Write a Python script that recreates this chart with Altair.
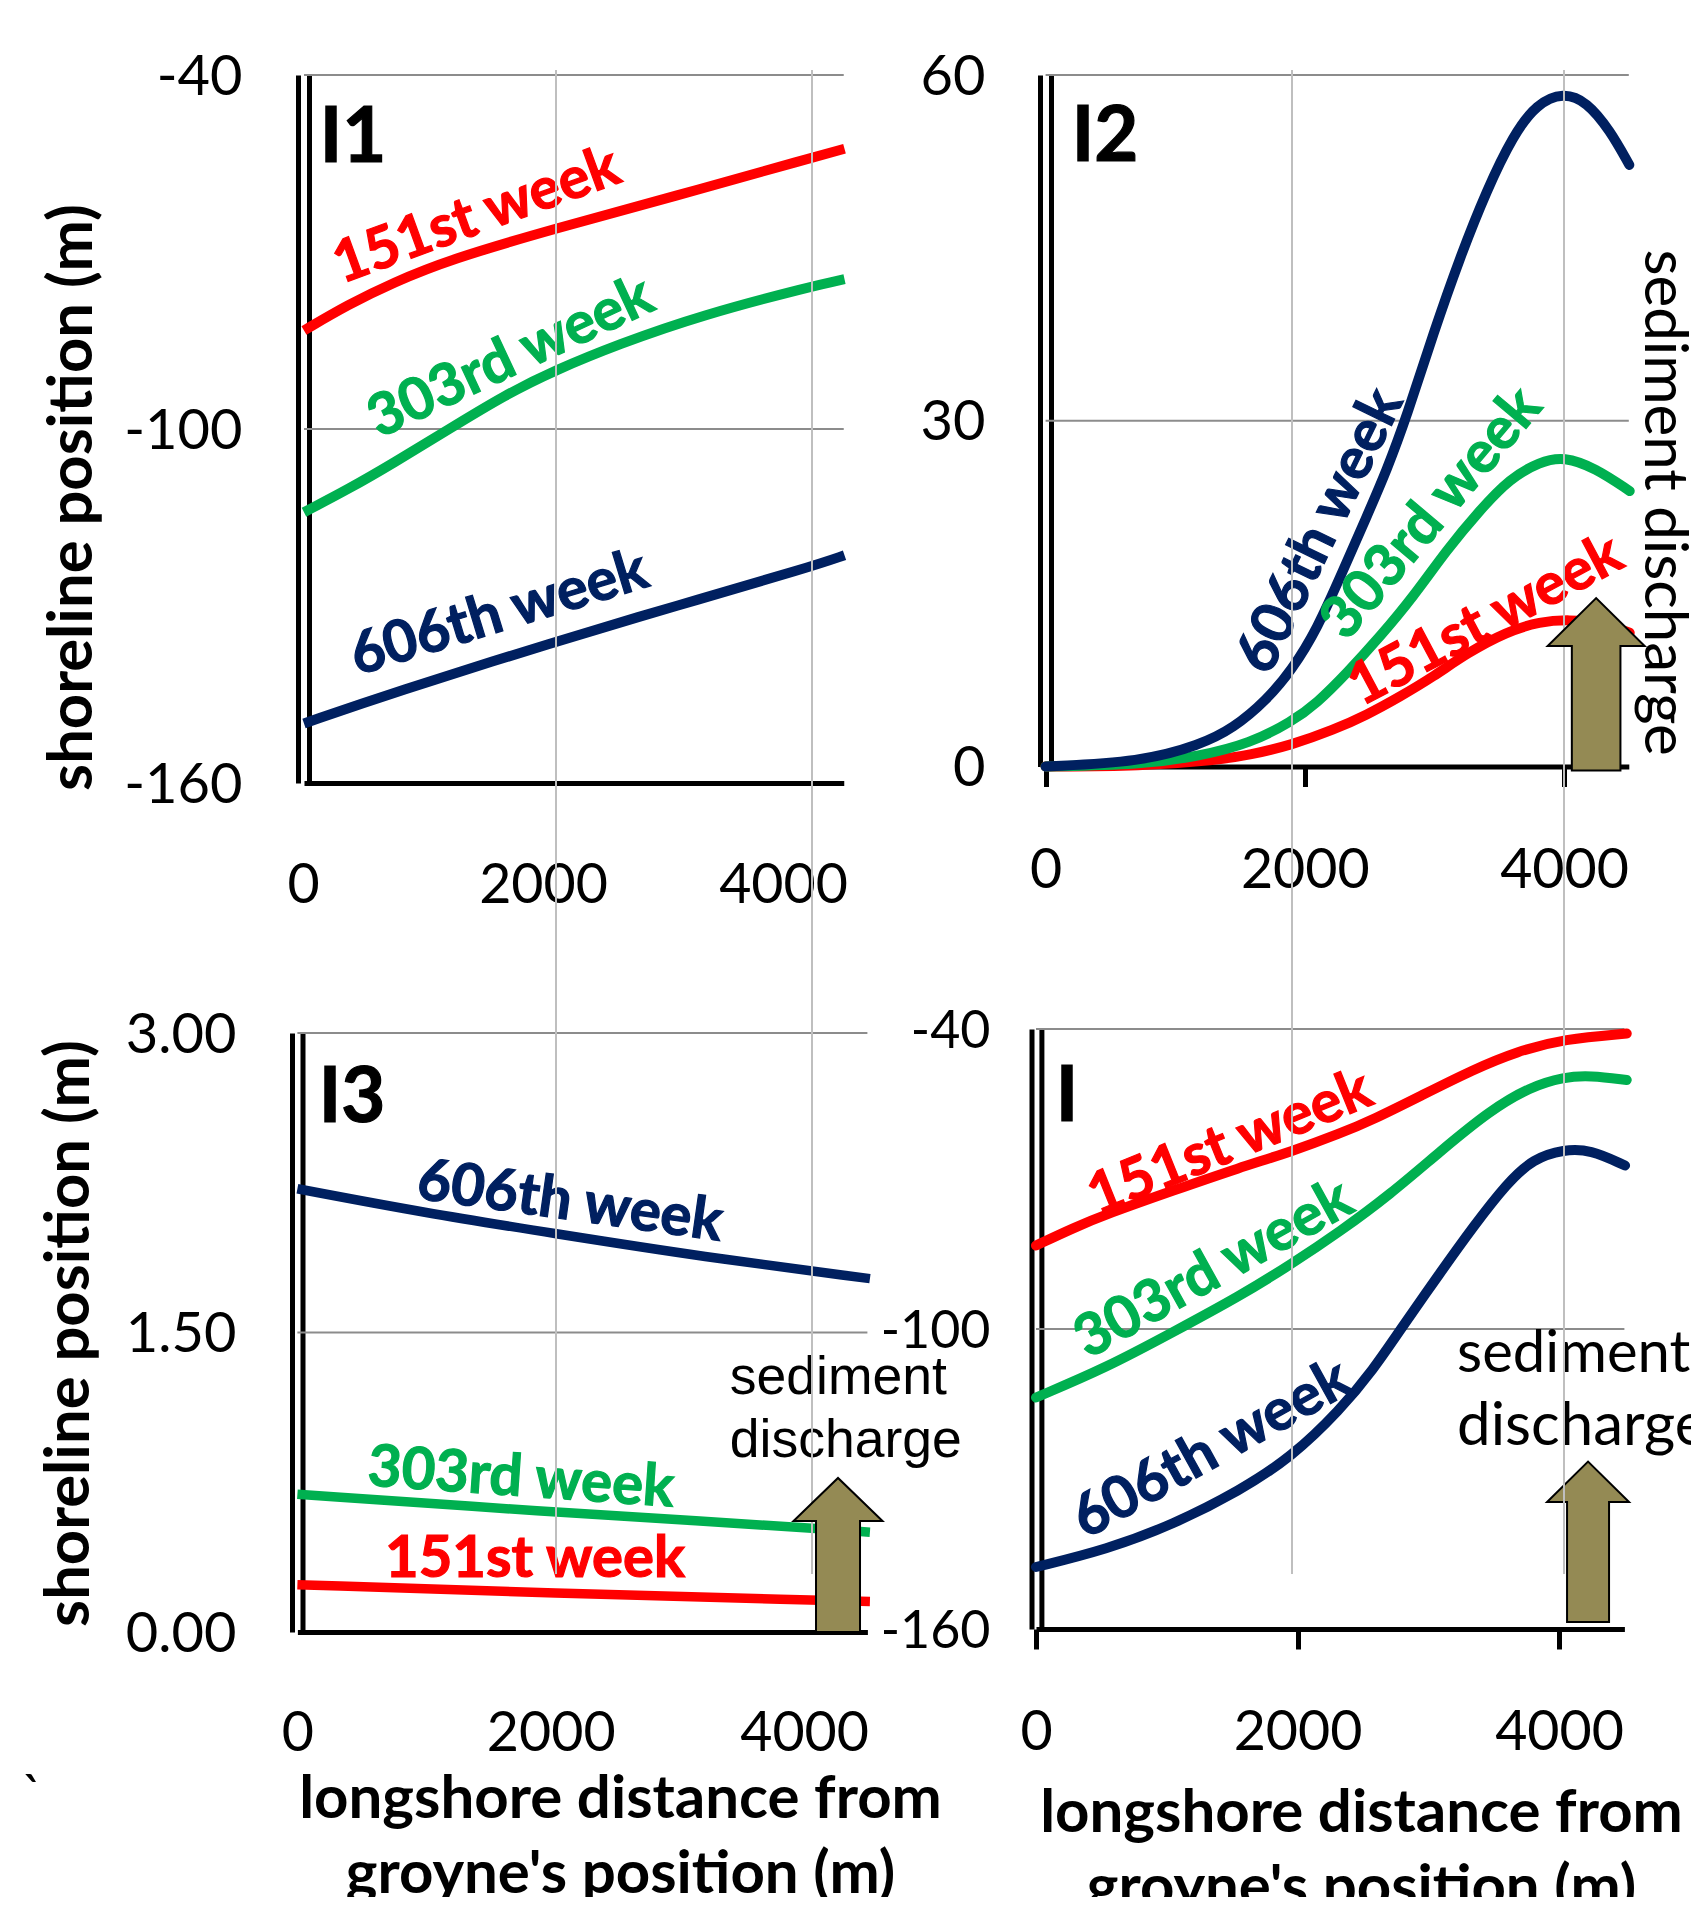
import altair as alt
import pandas as pd

W, H, M = 1683, 1889, 8
FONT = "Lato"
RED, GREEN, NAVY = "#FF0000", "#00B050", "#002060"
WEEKS = ["151st week", "303rd week", "606th week"]
COLORS = [RED, GREEN, NAVY]
ARROW_FILL = "#948A54"

# ---- series values (distance m, shoreline/discharge value)
i1_x_151 = [0, 349, 702, 1143, 1982, 2910, 4000, 4256]
i1_y_151 = [-83.3, -78.9, -75.2, -71.3, -66, -60.6, -54, -52.5]
i1_x_303 = [0, 349, 702, 1143, 1585, 1982, 2468, 3130, 4000, 4256]
i1_y_303 = [-114.1, -110.2, -105.8, -100, -94.2, -90, -85.7, -80.7, -75.8, -74.6]
i1_x_606 = [0, 702, 1982, 2910, 4000, 4256]
i1_y_606 = [-149.9, -144.7, -136, -130.1, -123.3, -121.4]

i2_x_151 = [0, 737, 1320, 1577, 1899, 2220, 2478, 2735, 2992, 3249, 3558, 3815, 4040, 4282, 4507]
i2_y_151 = [0, 0.03, 0.56, 1, 1.87, 3.17, 4.47, 6.06, 7.79, 9.82, 11.7, 12.57, 12.75, 12.5, 11.6]
i2_x_303 = [0, 737, 1191, 1577, 1899, 2092, 2323, 2580, 2837, 3095, 3352, 3583, 3815, 4000, 4241, 4507]
i2_y_303 = [0, 0.15, 0.91, 2.01, 3.89, 5.48, 8.09, 11.26, 14.73, 18.8, 22.26, 25, 26.45, 26.9, 25.9, 23.9]
i2_x_606 = [0, 737, 1191, 1448, 1706, 1899, 2092, 2297, 2478, 2632, 2786, 2992, 3198, 3403, 3609, 3789, 3995, 4175, 4355, 4504]
i2_y_606 = [0, 0.4, 1.87, 3.31, 5.77, 8.37, 11.84, 17.05, 21.7, 25.7, 30.35, 37.6, 44.2, 50, 54.8, 57.5, 58.5, 57.7, 55.2, 52.2]

i3_x_151 = [0, 2038, 4076, 4520]
i3_y_151 = [0.237, 0.194, 0.16, 0.153]
i3_x_303 = [0, 2038, 3190, 4076, 4520]
i3_y_303 = [0.69, 0.60, 0.555, 0.52, 0.50]
i3_x_606 = [0, 1000, 2038, 3190, 4520]
i3_y_606 = [2.22, 2.10, 1.995, 1.88, 1.77]

i_x_151 = [0, 285, 541, 1050, 1560, 1955, 2325, 2580, 2962, 3345, 3676, 4038, 4518]
i_y_151 = [-83.3, -79.8, -77, -72.3, -67.7, -64.5, -60.9, -58.1, -53.1, -48.1, -44.5, -42, -40.9]
i_x_303 = [0, 541, 1050, 1560, 1955, 2325, 2708, 3090, 3472, 3778, 4038, 4237, 4518]
i_y_303 = [-113.7, -107.7, -100.6, -93.4, -87, -80.5, -73.1, -64.5, -56.3, -51.6, -49.6, -49.3, -50.2]
i_x_606 = [0, 541, 1050, 1560, 1955, 2325, 2580, 2784, 3090, 3345, 3600, 3804, 4038, 4237, 4505]
i_y_606 = [-147.6, -144.1, -139.1, -132.3, -125.6, -116.2, -108.1, -100.2, -88.8, -79.5, -70.9, -65.9, -64.1, -64.1, -67.3]

X_TICKS = [0, 2000, 4000]
Y_LABEL = "shoreline position (m)"
X_LABEL = ["longshore distance from", "groyne's position (m)"]


def r(*vals):
    return [v - M for v in vals]


def xs(dom, rng):
    return alt.Scale(domain=dom, range=r(*rng), nice=False, zero=False)


def line_layer(p, data):
    rows = []
    for week, (xv, yv) in zip(WEEKS, data):
        rows += [{"d": a, "v": b, "week": week} for a, b in zip(xv, yv)]
    return alt.Chart(pd.DataFrame(rows)).mark_line(
        interpolate="basis", strokeWidth=p["lw"], strokeCap=p["cap"]
    ).encode(
        x=alt.X("d:Q", scale=xs(p["xd"], p["xr"]), axis=None),
        y=alt.Y("v:Q", scale=xs(p["yd"], p["yr"]), axis=None),
        color=alt.Color("week:N", scale=alt.Scale(domain=WEEKS, range=COLORS), legend=None),
        detail="week:N",
    )


def text_layer(p, txt, d, v, size, color="black", weight="normal", angle=0,
               font=FONT, align="center", thick=0):
    kw = dict(stroke=color, strokeWidth=thick) if thick else {}
    return alt.Chart(pd.DataFrame({"d": [d], "v": [v], "t": [txt]})).mark_text(
        font=font, fontSize=size, fontWeight=weight, color=color, angle=angle,
        align=align, baseline="middle", **kw
    ).encode(
        x=alt.X("d:Q", scale=xs(p["xd"], p["xr"]), axis=None),
        y=alt.Y("v:Q", scale=xs(p["yd"], p["yr"]), axis=None),
        text="t:N",
    )


def hgrid_layer(p, vals):
    return alt.Chart(pd.DataFrame({"v": vals, "a": p["xd"][0], "b": p["xd"][1]})).mark_rule(
        color="#8C8C8C", strokeWidth=2
    ).encode(
        x=alt.X("a:Q", scale=xs(p["xd"], p["xr"]), axis=None),
        x2="b:Q",
        y=alt.Y("v:Q", scale=xs(p["yd"], p["yr"]), axis=None),
    )


def vgrid_layer(dom, rng, vals):
    return alt.Chart(pd.DataFrame({"d": vals})).mark_rule(
        color="#BFBFBF", strokeWidth=2
    ).encode(
        x=alt.X("d:Q", scale=xs(dom, rng), axis=None),
        y=alt.value(70 - M),
        y2=alt.value(1574 - M),
    )


def yaxis_layer(p, vals, xpos, expr, label_right=None, size=56, title=None, title_x=0, title_y=0,
                title_size=61.5):
    kw = dict(
        orient="left", offset=-(xpos - M), values=vals, ticks=False, grid=False,
        domainColor="black", domainWidth=5,
    )
    if label_right is None:
        kw.update(labels=False, title=None)
    else:
        kw.update(labelFont=FONT, labelFontSize=size, labelColor="black", labelExpr=expr,
                  labelPadding=xpos - label_right, labelBaseline="middle", tickSize=0, labelOffset=2,
                  labelOverlap=False, labelFlush=False)
        if title:
            kw.update(title=title, titleFont=FONT, titleFontSize=title_size, titleFontWeight="bold",
                      titleColor="black", titleAngle=-90, titleBaseline="middle", titleAlign="center",
                      titleX=title_x - xpos, titleY=title_y - M)
        else:
            kw.update(title=None)
    return alt.Chart(pd.DataFrame({"v": vals})).mark_point(opacity=0).encode(
        x=alt.value(0),
        y=alt.Y("v:Q", scale=xs(p["yd"], p["yr"]), axis=alt.Axis(**kw)),
    )


def xaxis_layer(dom, rng, ybase, ticks, domain=True, labels=True, label_y=None, tick_size=0, size=55.5,
                title=None, title_x=0, title_y=0, line_h=75):
    kw = dict(orient="bottom", offset=ybase - M - H, values=X_TICKS, grid=False,
              domain=domain, domainColor="black", domainWidth=5,
              ticks=ticks, tickColor="black", tickWidth=5, tickSize=tick_size,
              labels=labels, title=None)
    if labels:
        kw.update(labelFont=FONT, labelFontSize=size, labelColor="black", format="d",
                  labelBaseline="middle", labelPadding=label_y - ybase - tick_size,
                  labelOverlap=False, labelFlush=False)
    if title:
        kw.update(title=title, titleFont=FONT, titleFontSize=60, titleFontWeight="bold",
                  titleColor="black", titleBaseline="middle", titleAlign="center", titleAnchor="start",
                  titleLineHeight=line_h, titleX=title_x - M, titleY=title_y - ybase)
    return alt.Chart(pd.DataFrame({"d": X_TICKS})).mark_point(opacity=0).encode(
        x=alt.X("d:Q", scale=xs(dom, rng), axis=alt.Axis(**kw)),
        y=alt.value(0),
    )


def arrow_layer(p, d, v, total, head, head_half, shaft_half):
    # outline of a block arrow, in units of 100 px about its foot
    a = lambda n: f"{n / 100:.3f}"
    path = (f"M{a(-shaft_half)} 0 L{a(-shaft_half)} {a(head - total)} L{a(-head_half)} {a(head - total)} "
            f"L0 {a(-total)} L{a(head_half)} {a(head - total)} L{a(shaft_half)} {a(head - total)} "
            f"L{a(shaft_half)} 0 Z")
    return alt.Chart(pd.DataFrame({"d": [d], "v": [v]})).mark_point(
        shape=path, size=40000, filled=True, fill=ARROW_FILL, stroke="black", strokeWidth=2, opacity=1,
        fillOpacity=1
    ).encode(
        x=alt.X("d:Q", scale=xs(p["xd"], p["xr"]), axis=None),
        y=alt.Y("v:Q", scale=xs(p["yd"], p["yr"]), axis=None),
    )


P1 = dict(xd=[0, 4250], xr=[304, 843.75], yd=[-160, -40], yr=[783, 75], lw=10, cap="butt")
P2 = dict(xd=[0, 4500], xr=[1045.6, 1628.8], yd=[0, 60], yr=[766.5, 75], lw=10, cap="round")
P3 = dict(xd=[0, 4500], xr=[297.4, 867.4], yd=[0, 3], yr=[1632, 1033], lw=9.5, cap="butt")
P4 = dict(xd=[0, 4500], xr=[1036, 1624.4], yd=[-160, -40], yr=[1629, 1029], lw=10, cap="round")

LBL = 58
TH = 1.2
HEAD = 76
INT = "'' + datum.value"
DEC = "format(datum.value, '.2f')"
layers = [
    # horizontal gridlines
    hgrid_layer(P1, [-40, -100]),
    hgrid_layer(P2, [60, 30]),
    hgrid_layer(P3, [3, 1.5]),
    hgrid_layer(P4, [-40, -100]),
    # axes: outer and inner vertical lines
    yaxis_layer(P1, [-160, -100, -40], 298, INT, 242, 56, Y_LABEL, 73, 497),
    yaxis_layer(P1, [-160, -100, -40], 309, INT),
    yaxis_layer(P2, [0, 30, 60], 1040, INT, 985, 56),
    yaxis_layer(P2, [0, 30, 60], 1051, INT),
    yaxis_layer(P3, [0, 1.5, 3], 292, DEC, 236, 56, Y_LABEL, 70, 1333),
    yaxis_layer(P3, [0, 1.5, 3], 302.5, DEC),
    yaxis_layer(P4, [-160, -100, -40], 1031.5, INT, 990, 52),
    yaxis_layer(P4, [-160, -100, -40], 1041.4, INT),
    # x axes
    xaxis_layer(P1["xd"], P1["xr"], 783, False, labels=False),
    xaxis_layer([0, 4000], [303, 783], 783, False, domain=False, label_y=885),
    xaxis_layer(P2["xd"], P2["xr"], 766.5, True, label_y=870, tick_size=20),
    xaxis_layer(P3["xd"], P3["xr"], 1632, False, label_y=1733, title=X_LABEL, title_x=620, title_y=1799),
    xaxis_layer(P4["xd"], P4["xr"], 1629, True, label_y=1732, tick_size=20, title=X_LABEL, title_x=1361, title_y=1813.6),
    # curves
    line_layer(P1, [(i1_x_151, i1_y_151), (i1_x_303, i1_y_303), (i1_x_606, i1_y_606)]),
    line_layer(P2, [(i2_x_151, i2_y_151), (i2_x_303, i2_y_303), (i2_x_606, i2_y_606)]),
    line_layer(P3, [(i3_x_151, i3_y_151), (i3_x_303, i3_y_303), (i3_x_606, i3_y_606)]),
    line_layer(P4, [(i_x_151, i_y_151), (i_x_303, i_y_303), (i_x_606, i_y_606)]),
    # curve labels
    text_layer(P1, WEEKS[0], 1360, -64, LBL, RED, "bold", 340, thick=TH),
    text_layer(P1, WEEKS[1], 1630, -88, LBL, GREEN, "bold", 335, thick=TH),
    text_layer(P1, WEEKS[2], 1539, -131.4, LBL, NAVY, "bold", 343, thick=TH),
    text_layer(P2, WEEKS[2], 2125, 20.4, LBL, NAVY, "bold", 296, thick=TH),
    text_layer(P2, WEEKS[1], 2982, 21.9, LBL, GREEN, "bold", 310, thick=TH),
    text_layer(P2, WEEKS[0], 3398, 12.6, LBL, RED, "bold", 332, thick=TH),
    text_layer(P3, WEEKS[2], 2152, 2.15, LBL, NAVY, "bold", 8, thick=TH),
    text_layer(P3, WEEKS[1], 1765, 0.766, LBL, GREEN, "bold", 4, thick=TH),
    text_layer(P3, WEEKS[0], 1876, 0.36, LBL, RED, "bold", 0, thick=TH),
    text_layer(P4, WEEKS[0], 1484, -63, LBL, RED, "bold", 338, thick=TH),
    text_layer(P4, WEEKS[1], 1361, -88.2, LBL, GREEN, "bold", 331, thick=TH),
    text_layer(P4, WEEKS[2], 1346, -124.2, LBL, NAVY, "bold", 331, thick=TH),
    # panel names
    text_layer(P1, "I1", 386, -50.8, HEAD, weight="bold", thick=TH),
    text_layer(P2, "I2", 458, 54.5, HEAD, weight="bold", thick=TH),
    text_layer(P3, "I3", 431, 2.67, HEAD, weight="bold", thick=TH),
    text_layer(P4, "I", 237, -53.8, HEAD, weight="bold", thick=TH),
    # notes
    text_layer(P2, "sediment discharge", 4765, 22.9, 60, angle=90),
    text_layer(P3, "sediment", 3414, 1.27, 53.5, font="Liberation Sans", align="left"),
    text_layer(P3, "discharge", 3414, 0.957, 53.5, font="Liberation Sans", align="left"),
    text_layer(P4, "sediment", 3220, -105.2, 58, align="left"),
    text_layer(P4, "discharge", 3220, -119.6, 60, align="left"),
    text_layer(P3, "`", -2090, -0.83, 54),
    # lower right arrow lies under the gridline
    arrow_layer(P4, 4222, -158.6, 160.4, 40.4, 41, 21),
    # vertical gridlines run through both rows, over curves and text
    vgrid_layer([0, 4000], [300, 812], [2000, 4000]),
    vgrid_layer([0, 4000], [1020, 1564], [2000, 4000]),
    # the other arrows cover them
    arrow_layer(P2, 4248, -0.35, 172.5, 48, 48.5, 24.3),
    arrow_layer(P3, 4268, 0, 154, 43, 44.5, 22),
]

chart = alt.layer(*layers).resolve_scale(x="independent", y="independent", color="shared").properties(
    width=W, height=H, padding=0, autosize=alt.AutoSizeParams(type="none"), background="white"
).configure_view(stroke=None)

chart.save("out.html", embed_options={"renderer": "svg", "actions": False})
